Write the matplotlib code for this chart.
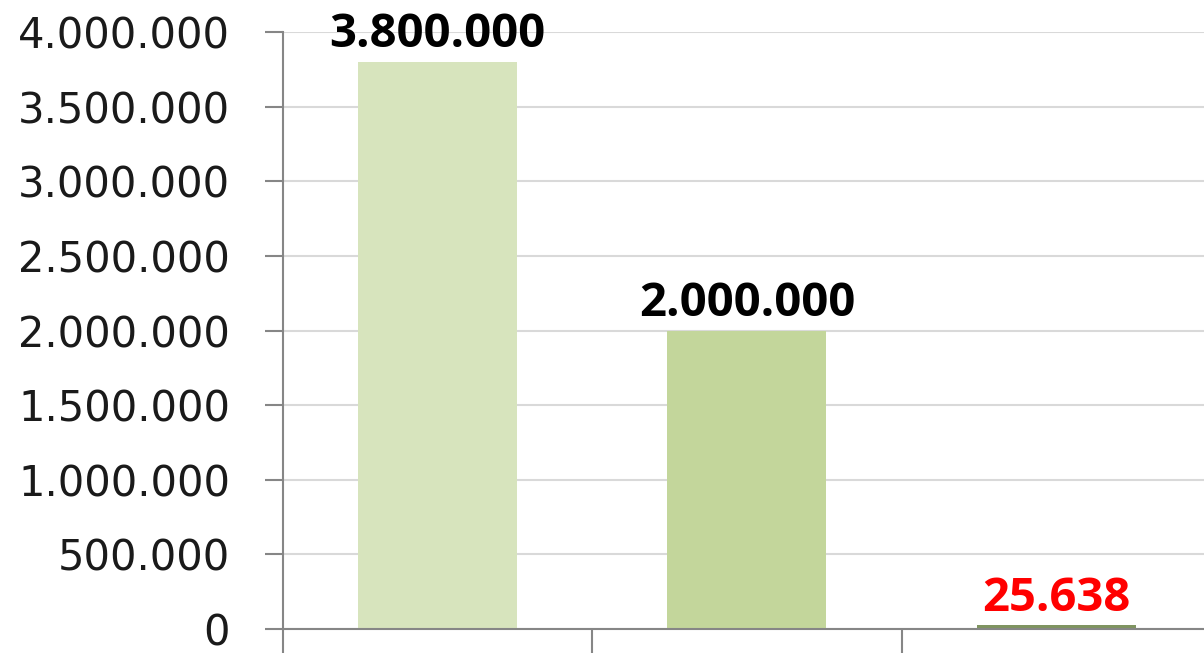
import matplotlib
matplotlib.use("Agg")
import matplotlib.pyplot as plt
from matplotlib.ticker import FuncFormatter, FixedLocator

categories = ["A", "B", "C"]
values = [3800000, 2000000, 25638]
bar_colors = ["#D7E4BD", "#C3D69B", "#7F9460"]
label_colors = ["#000000", "#000000", "#FF0000"]
yticks = [0, 500000, 1000000, 1500000, 2000000, 2500000, 3000000, 3500000, 4000000]


def dotted(v):
    return f"{int(round(v)):,}".replace(",", ".")


fig = plt.figure(figsize=(12.04, 6.54), dpi=100)
W, H = 1204, 654
ax = fig.add_axes([283 / W, 25 / H, (W - 283) / W, (629 - 32) / H])

x = list(range(len(categories)))
ax.bar(x, values, width=0.514, color=bar_colors, zorder=3)

ax.set_xlim(-0.5, 2.478)
ax.set_ylim(0, 4000000)
ax.set_yticks(yticks)
ax.yaxis.set_major_formatter(FuncFormatter(lambda v, p: dotted(v)))
ax.yaxis.grid(True, color="#D9D9D9", linewidth=1.5, zorder=0)
ax.set_axisbelow(True)

ax.set_xticks([])
ax.xaxis.set_minor_locator(FixedLocator([-0.5, 0.5, 1.5, 2.5]))
ax.tick_params(axis="x", which="minor", direction="out", length=17,
               width=1.5, color="#868686", labelbottom=False)
ax.tick_params(axis="y", which="major", direction="out", length=13,
               width=1.5, color="#868686", pad=25, labelsize=30,
               labelcolor="#1a1a1a")
for lab in ax.get_yticklabels():
    lab.set_fontfamily("DejaVu Sans")

for s in ["top", "right"]:
    ax.spines[s].set_visible(False)
for s in ["left", "bottom"]:
    ax.spines[s].set_color("#868686")
    ax.spines[s].set_linewidth(1.5)
    ax.spines[s].set_zorder(4)

for xi, v, c in zip(x, values, label_colors):
    ax.annotate(dotted(v), xy=(xi, v), xytext=(0, 10.5),
                textcoords="offset points", ha="center", va="baseline",
                fontsize=34, fontweight="bold", color=c,
                fontfamily="Open Sans", zorder=5, annotation_clip=False)

fig.savefig("out.png", dpi=100)
